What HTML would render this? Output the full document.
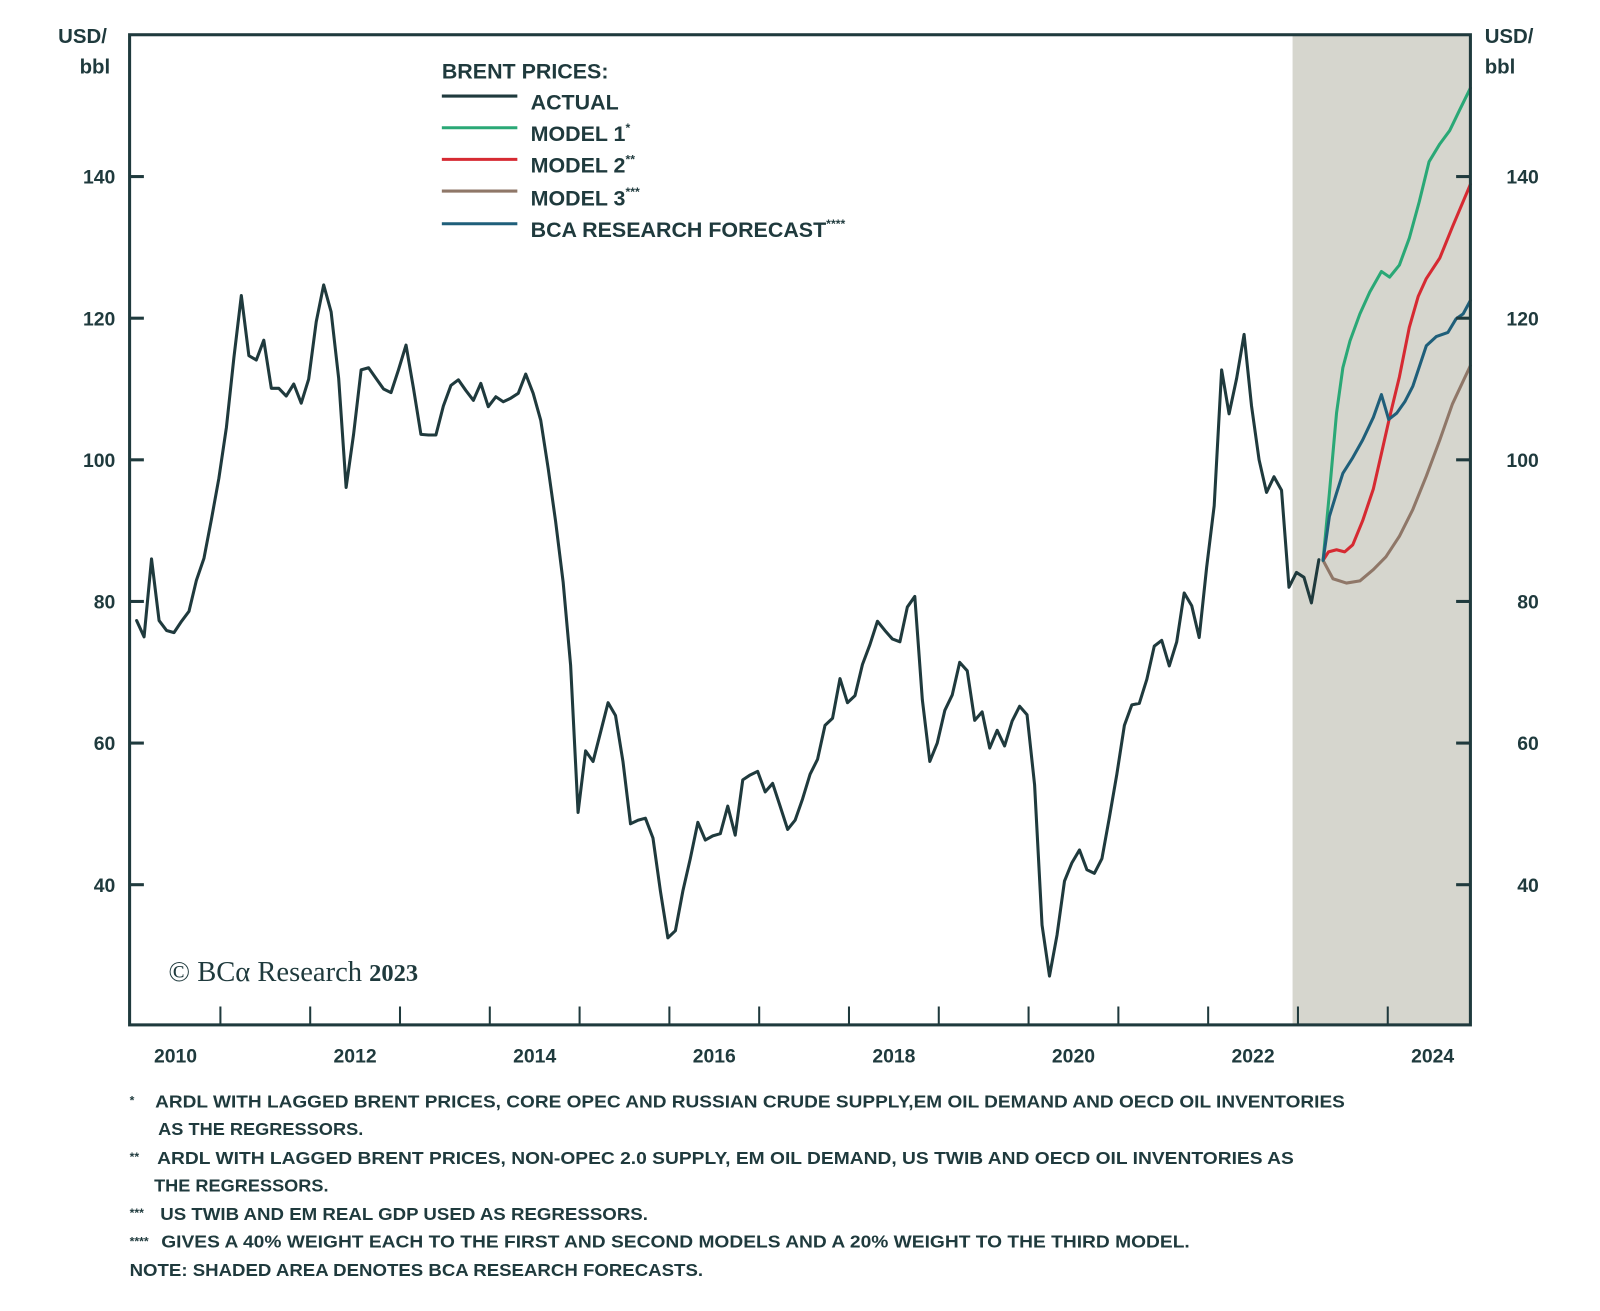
<!DOCTYPE html>
<html><head><meta charset="utf-8"><style>
html,body{margin:0;padding:0;background:#fff;}
svg{display:block;}
text{font-family:"Liberation Sans",sans-serif;fill:#1f3a3d;}
</style></head><body>
<svg id="chart" width="1600" height="1311" viewBox="0 0 1568 1283" preserveAspectRatio="none" xmlns="http://www.w3.org/2000/svg">
<rect x="0" y="0" width="1568" height="1283" fill="#fff"/>
<g id="shade"></g>
<g id="series"></g>
<g id="frame"></g>
<g>
  <text x="433" y="77" font-size="21" font-weight="bold">BRENT PRICES:</text>
  <line x1="433" y1="94" x2="507" y2="94" stroke="#1f3a3d" stroke-width="3"/>
  <text x="520" y="107" font-size="21" font-weight="bold">ACTUAL</text>
  <line x1="433" y1="125" x2="507" y2="125" stroke="#2aa876" stroke-width="3"/>
  <text x="520" y="138" font-size="21" font-weight="bold">MODEL 1<tspan font-size="12" dy="-9">*</tspan></text>
  <line x1="433" y1="156" x2="507" y2="156" stroke="#d62a32" stroke-width="3"/>
  <text x="520" y="169" font-size="21" font-weight="bold">MODEL 2<tspan font-size="12" dy="-9">**</tspan></text>
  <line x1="433" y1="187" x2="507" y2="187" stroke="#8f7768" stroke-width="3"/>
  <text x="520" y="201" font-size="21" font-weight="bold">MODEL 3<tspan font-size="12" dy="-9">***</tspan></text>
  <line x1="433" y1="219" x2="507" y2="219" stroke="#1f5f7a" stroke-width="3"/>
  <text x="520" y="232" font-size="21" font-weight="bold">BCA RESEARCH FORECAST<tspan font-size="12" dy="-9">****</tspan></text>
</g>
<text x="57" y="42" font-size="20" font-weight="bold">USD/</text>
<text x="78" y="72" font-size="20" font-weight="bold">bbl</text>
<text x="1455" y="42" font-size="20" font-weight="bold">USD/</text>
<text x="1455" y="72" font-size="20" font-weight="bold">bbl</text>
<text x="165" y="960" font-size="28" style="font-family:'Liberation Serif',serif">© BCα Research <tspan font-size="24" font-weight="bold">2023</tspan></text>
<g font-size="17" font-weight="bold">
  <text x="127" y="1081" font-size="12">*</text>
  <text x="152" y="1084" textLength="1166" lengthAdjust="spacingAndGlyphs">ARDL WITH LAGGED BRENT PRICES, CORE OPEC AND RUSSIAN CRUDE SUPPLY,EM OIL DEMAND AND OECD OIL INVENTORIES</text>
  <text x="155" y="1111" textLength="201" lengthAdjust="spacingAndGlyphs">AS THE REGRESSORS.</text>
  <text x="127" y="1136" font-size="12">**</text>
  <text x="154" y="1139" textLength="1114" lengthAdjust="spacingAndGlyphs">ARDL WITH LAGGED BRENT PRICES, NON-OPEC 2.0 SUPPLY, EM OIL DEMAND, US TWIB AND OECD OIL INVENTORIES AS</text>
  <text x="151" y="1166" textLength="171" lengthAdjust="spacingAndGlyphs">THE REGRESSORS.</text>
  <text x="127" y="1191" font-size="12">***</text>
  <text x="157" y="1194" textLength="478" lengthAdjust="spacingAndGlyphs">US TWIB AND EM REAL GDP USED AS REGRESSORS.</text>
  <text x="127" y="1219" font-size="12">****</text>
  <text x="158" y="1221" textLength="1008" lengthAdjust="spacingAndGlyphs">GIVES A 40% WEIGHT EACH TO THE FIRST AND SECOND MODELS AND A 20% WEIGHT TO THE THIRD MODEL.</text>
  <text x="127" y="1249" textLength="562" lengthAdjust="spacingAndGlyphs">NOTE: SHADED AREA DENOTES BCA RESEARCH FORECASTS.</text>
</g>
</svg>
<script>
const actualStartYear = 2010;
const actualValues = [77.3,75,86,77.3,75.9,75.6,77.2,78.6,83,86.1,
91.6,97.4,104.6,114.4,123.2,114.7,114.1,116.9,110.1,110.1,
109,110.7,108,111.4,119.5,124.7,120.9,111.5,96.1,103.6,
112.7,113,111.5,110,109.5,112.7,116.2,110.1,103.6,103.5,
103.5,107.6,110.5,111.3,109.8,108.4,110.8,107.5,108.9,108.2,
108.7,109.4,112.1,109.4,105.6,98.8,91.3,82.7,71,50.2,
58.9,57.4,61.5,65.7,63.9,57.4,48.6,49.1,49.4,46.6,
39.1,32.5,33.5,39.1,43.7,48.8,46.3,46.9,47.2,51.1,
47,54.8,55.5,56,53.1,54.3,51.1,47.8,49.1,52.1,
55.6,57.7,62.5,63.5,69.1,65.7,66.7,71.1,73.9,77.2,
75.9,74.7,74.3,79.2,80.7,66.1,57.4,60,64.6,66.8,
71.4,70.2,63.2,64.4,59.3,61.8,59.6,63.1,65.2,64,
54.1,34.3,27.1,32.9,40.5,43.1,44.9,42.1,41.6,43.7,
49.5,55.6,62.5,65.4,65.6,69,73.7,74.5,70.9,74.3,
81.2,79.4,74.9,84.8,93.5,112.7,106.5,111.5,117.7,107.6,
100,95.4,97.6,95.7,82,84.1,83.4,79.8,85.9];
const model1Dates = [2023.28,2023.35,2023.43,2023.50,2023.58,2023.69,2023.80,2023.93,2024.02,2024.13,2024.24,2024.35,2024.46,2024.58,2024.69,2024.80,2024.92];
const model1Values = [85.8,95.3,106.6,113,116.8,120.6,123.7,126.6,125.8,127.5,131.3,136.4,142.1,144.6,146.5,149.4,152.5];
const model2Dates = [2023.28,2023.34,2023.43,2023.52,2023.61,2023.72,2023.84,2023.93,2024.02,2024.13,2024.24,2024.34,2024.43,2024.58,2024.72,2024.92];
const model2Values = [85.8,87,87.3,87,88,91.4,95.9,100.9,106,111.7,118.7,123.1,125.6,128.5,132.9,138.9];
const model3Dates = [2023.28,2023.39,2023.54,2023.69,2023.84,2023.98,2024.13,2024.28,2024.43,2024.58,2024.72,2024.92];
const model3Values = [85.8,83.2,82.6,82.9,84.5,86.3,89.2,93,97.7,102.8,107.9,113.3];
const bcaDates = [2023.28,2023.35,2023.43,2023.50,2023.61,2023.72,2023.84,2023.93,2024.01,2024.10,2024.19,2024.28,2024.43,2024.54,2024.67,2024.76,2024.84,2024.92];
const bcaValues = [85.8,92,95.3,98.1,100.3,102.8,106,109.2,105.7,106.6,108.2,110.4,116.1,117.4,118,119.9,120.6,122.5];
const yTicks = [40,60,80,100,120,140];
const xLabels = [2010,2012,2014,2016,2018,2020,2022,2024];
const xTickYears = [2011,2012,2013,2014,2015,2016,2017,2018,2019,2020,2021,2022,2023,2024];
const forecastStart = 2022.94;

const NS='http://www.w3.org/2000/svg';
const L=127,R=1441,T=34,B=1003;
const X=t=>128+(t-2010)*88;
const Y=v=>450-(v-100)*6.93;
function mk(tag,attrs,parent){const e=document.createElementNS(NS,tag);for(const k in attrs)e.setAttribute(k,attrs[k]);parent.appendChild(e);return e;}
const shade=document.getElementById('shade'),series=document.getElementById('series'),frame=document.getElementById('frame');

const sh=mk('rect',{x:X(forecastStart),y:T,width:R-X(forecastStart),height:B-T,fill:'#d6d6ce'},shade);



yTicks.forEach(v=>{
  const a=mk('line',{x1:L,x2:L+14,y1:Y(v),y2:Y(v),stroke:'#1f3a3d','stroke-width':3},frame);
  
  
  const b=mk('line',{x1:R-14,x2:R,y1:Y(v),y2:Y(v),stroke:'#1f3a3d','stroke-width':3},frame);
  
  
  const t1=mk('text',{x:113,y:Y(v)+7,'text-anchor':'end','font-size':19,'font-weight':'bold'},frame);
  t1.textContent=v;
  
  
  const t2=mk('text',{x:1508,y:Y(v)+7,'text-anchor':'end','font-size':19,'font-weight':'bold'},frame);
  t2.textContent=v;
  
  
});
xTickYears.forEach(yr=>{
  const a=mk('line',{x1:X(yr),x2:X(yr),y1:B-18,y2:B,stroke:'#1f3a3d','stroke-width':2},frame);
  
  
});
xLabels.forEach(yr=>{
  const t=mk('text',{x:X(yr+0.5),y:1040,'text-anchor':'middle','font-size':19,'font-weight':'bold'},frame);
  t.textContent=yr;
  
  
});
const box=mk('rect',{x:L,y:T,width:R-L,height:B-T,fill:'none',stroke:'#1f3a3d','stroke-width':3},frame);



function line(dates,vals,color,name){
  const pts=vals.map((v,i)=>X(dates[i]).toFixed(1)+','+Y(v).toFixed(1)).join(' ');
  const p=mk('polyline',{points:pts,fill:'none',stroke:color,'stroke-width':3,'stroke-linejoin':'round','stroke-linecap':'round'},series);
  
  
}
const actualDates=actualValues.map((v,i)=>actualStartYear+(i+0.8)/12);
line(model3Dates,model3Values,'#8f7768','model-3-line');
line(model2Dates,model2Values,'#d62a32','model-2-line');
line(model1Dates,model1Values,'#2aa876','model-1-line');
line(bcaDates,bcaValues,'#1f5f7a','bca-forecast-line');
line(actualDates,actualValues,'#1f3a3d','actual-line');
</script>
</body></html>
